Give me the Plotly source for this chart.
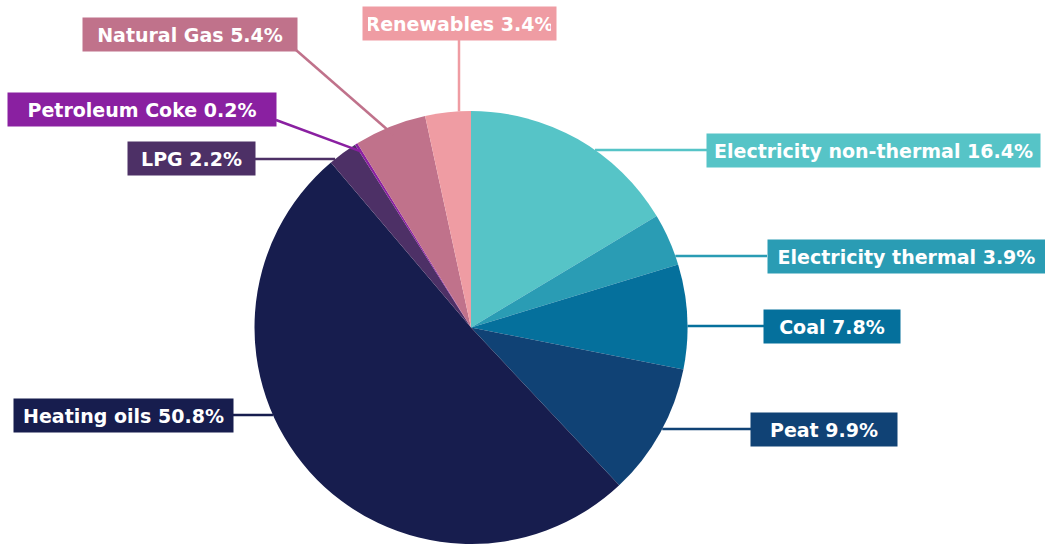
import math
import plotly.graph_objects as go

# Household heating fuel shares (%)
fuels = ["Electricity non-thermal", "Electricity thermal", "Coal", "Peat",
         "Heating oils", "LPG", "Petroleum Coke", "Natural Gas", "Renewables"]
shares = [16.4, 3.9, 7.8, 9.9, 50.8, 2.2, 0.2, 5.4, 3.4]
colors = ["#56C4C7", "#2A9CB4", "#05709C", "#104275", "#171D4E",
          "#4D3066", "#8A20A1", "#C0728B", "#EF9CA3"]

W, H = 1045, 544
CX, CY, R = 471, 327.5, 216.5          # pie centre / radius in pixels

# label box centres (px), inner box widths (px) and leader style
label_pos = [(874, 150), (906, 256), (832, 326), (824, 429), (123, 415),
             (191, 159), (142, 110), (190, 34), (459, 24)]
label_width = [323, 267, 126, 136, 209, 117, 258, 204, 183]
leader = ["h", "h", "h", "h", "h", "h", "d", "d", "v"]
# where each leader leaves its label box (px)
leader_start = [(707, 150), (767, 256), (764, 326), (751, 429), (232, 415),
                (255, 159), (276, 120), (296, 50), (459, 40)]


def px(x):
    return x / W


def py(y):
    return 1 - y / H


fig = go.Figure(go.Pie(
    labels=fuels, values=shares, sort=False, direction="clockwise",
    rotation=0, textinfo="none", hoverinfo="label+percent",
    marker=dict(colors=colors, line=dict(width=0)),
    domain=dict(x=[(CX - R) / W, (CX + R) / W], y=[0, 2 * R / H]),
    showlegend=False,
))

total = sum(shares)
cum = 0.0
annotations, shapes = [], []
for name, v, col, (lx, ly), bw, style, (sx, sy) in zip(
        fuels, shares, colors, label_pos, label_width, leader, leader_start):
    mid = (cum + v / 2) / total * 2 * math.pi
    cum += v
    if style == "h":
        dy = ly - CY
        dx = math.sqrt(max(R * R - dy * dy, 0))
        tx = CX + dx if lx > CX else CX - dx
        ty = ly
    elif style == "v":
        dx = lx - CX
        tx = lx
        ty = CY - math.sqrt(max(R * R - dx * dx, 0))
    else:
        tx = CX + 0.96 * R * math.sin(mid)
        ty = CY - 0.96 * R * math.cos(mid)
    shapes.append(dict(type="line", xref="paper", yref="paper",
                       x0=px(sx), y0=py(sy), x1=px(tx), y1=py(ty),
                       line=dict(color=col, width=2.5)))
    annotations.append(dict(
        x=px(lx), y=py(ly), xref="paper", yref="paper",
        xanchor="center", yanchor="middle", showarrow=False,
        text=f"<b>{name} {v}%</b>", bgcolor=col, borderpad=5,
        width=bw, height=23, align="center",
        font=dict(family="DejaVu Sans", size=19, color="white")))

fig.update_layout(
    width=W, height=H, margin=dict(l=0, r=0, t=0, b=0),
    paper_bgcolor="white", plot_bgcolor="white",
    annotations=annotations, shapes=shapes,
)

fig.write_html("out.html")
